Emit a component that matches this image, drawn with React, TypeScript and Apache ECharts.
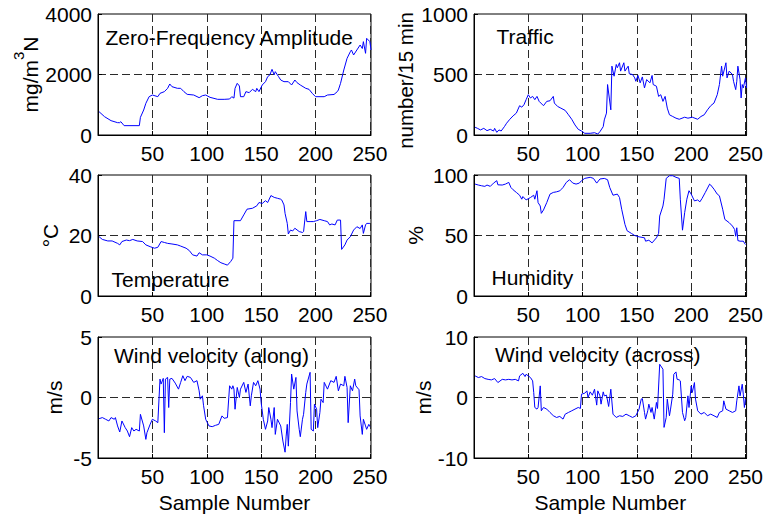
import React, { useEffect, useRef } from 'react';
import * as echarts from 'echarts';

// ---------- data (sample number, value) ----------
const amplitude: [number, number][] = [
  [1,770],[6,606],[12,474],[18,408],[20,408],[21,440],[24,309],[38,309],[39,584],[42,826],[44,1047],[47,1267],
  [50,1322],[55,1267],[57,1377],[61,1433],[64,1543],[66,1686],[68,1598],[73,1543],[76,1543],[79,1433],[82,1344],
  [88,1322],[93,1234],[96,1300],[99,1322],[103,1245],[110,1179],[116,1179],[121,1190],[123,1267],[125,1220],
  [126,1543],[128,1708],[130,1620],[131,1267],[134,1267],[136,1433],[139,1400],[142,1510],[145,1433],[146,1543],
  [148,1433],[151,1653],[154,1763],[156,1929],[158,1984],[160,2171],[162,1990],[163,2094],[166,1929],[168,1818],
  [171,1763],[175,1763],[178,1653],[181,1818],[183,1730],[186,1653],[191,1543],[194,1510],[197,1377],[200,1267],
  [208,1267],[211,1322],[217,1340],[220,1433],[221,1488],[223,1708],[226,2149],[229,2535],[232,2755],[233,2810],
  [235,2645],[238,2810],[241,2975],[243,2860],[244,3086],[246,2700],[247,3196],[250,3086],[251,2810]
];

const traffic: [number, number][] = [
  [1,64],[3,56],[6,42],[9,55],[12,36],[15,47],[18,33],[19,55],[21,22],[23,42],[25,33],[28,69],[30,97],[33,130],
  [36,158],[39,181],[42,242],[44,230],[46,250],[48,292],[50,333],[52,306],[54,319],[56,292],[58,319],[60,278],
  [64,242],[67,278],[70,283],[73,319],[74,264],[77,236],[80,222],[84,203],[87,167],[90,130],[93,83],[96,47],
  [99,33],[102,14],[107,14],[111,19],[114,8],[116,28],[119,69],[120,125],[122,181],[123,417],[124,347],[126,208],
  [127,569],[129,486],[131,583],[132,556],[134,597],[135,528],[138,597],[139,528],[142,569],[143,506],[146,500],
  [148,472],[149,444],[151,492],[153,431],[155,480],[157,389],[159,458],[162,431],[164,492],[165,417],[168,403],
  [170,319],[172,333],[174,278],[176,319],[178,222],[180,167],[183,153],[186,139],[189,130],[194,147],[197,139],
  [201,147],[206,130],[209,153],[212,167],[215,208],[218,242],[221,264],[224,333],[226,417],[228,569],[229,486],
  [232,597],[233,472],[235,528],[238,500],[239,444],[241,375],[242,444],[243,569],[245,458],[246,306],[247,417],
  [248,389],[250,472],[251,389]
];

const temperature: [number, number][] = [
  [1,19.6],[4,18.7],[9,18.2],[13,18.2],[18,17.4],[20,16.9],[22,18.0],[26,18.5],[29,18.3],[32,18.7],[36,18.2],
  [41,18.0],[44,16.9],[48,16.3],[52,15.8],[55,16.1],[58,18.0],[61,17.7],[64,17.4],[68,17.2],[73,16.9],[76,16.5],
  [81,15.8],[84,15.0],[87,13.6],[91,13.2],[93,14.3],[96,13.6],[100,13.6],[103,13.2],[107,12.5],[110,11.7],
  [113,11.0],[116,10.6],[119,10.2],[122,11.4],[124,12.5],[125,24.9],[131,24.9],[134,26.8],[137,28.7],[142,29.0],
  [146,29.8],[148,30.9],[151,30.6],[154,31.5],[156,30.9],[159,33.2],[162,32.6],[165,32.3],[168,32.0],[169,31.7],
  [171,30.1],[172,27.3],[174,24.0],[175,20.5],[177,21.8],[179,21.5],[181,22.4],[185,21.3],[188,21.0],[189,21.3],
  [191,27.9],[192,24.6],[195,24.6],[198,24.6],[201,24.9],[204,25.3],[208,24.9],[211,24.6],[213,23.5],[215,23.8],
  [218,23.5],[220,25.1],[223,25.1],[224,15.4],[227,16.9],[229,18.5],[232,19.6],[235,21.8],[238,22.9],[241,22.3],
  [243,23.5],[244,20.7],[246,23.5],[247,24.0],[250,24.0]
];

const humidity: [number, number][] = [
  [1,92.5],[4,91.7],[7,91.1],[10,90.6],[12,91.7],[15,90.6],[18,93.3],[21,95.3],[22,91.9],[26,91.7],[29,92.5],
  [32,93.9],[34,89.7],[36,87.8],[39,85.6],[42,83.3],[44,80.0],[45,82.2],[48,79.4],[52,81.4],[55,83.3],[56,80.0],
  [58,87.0],[59,77.2],[61,74.4],[62,68.3],[64,71.1],[67,77.2],[70,84.2],[73,85.6],[76,86.1],[79,86.9],[80,87.8],
  [82,89.7],[85,93.9],[88,96.1],[91,93.3],[94,92.5],[97,93.3],[99,95.3],[102,97.2],[107,98.1],[110,97.2],
  [113,93.3],[116,96.7],[120,97.2],[123,96.1],[125,89.7],[128,83.3],[132,84.2],[134,81.4],[136,71.7],[139,59.2],
  [141,53.9],[145,51.7],[148,50.0],[152,48.9],[157,48.1],[158,45.3],[161,46.1],[164,43.9],[168,48.1],[170,51.7],
  [171,66.1],[174,74.4],[175,80.0],[177,97.2],[180,99.4],[183,99.4],[186,98.1],[189,97.2],[190,80.0],[192,54.4],
  [194,68.9],[196,80.0],[198,87.0],[200,84.2],[203,78.6],[206,79.4],[208,77.8],[210,80.6],[213,85.6],[217,92.5],
  [218,91.7],[221,88.3],[224,84.2],[226,82.8],[229,71.7],[231,63.3],[235,60.6],[238,57.8],[240,55.0],[241,49.4],
  [242,56.4],[243,45.8],[245,45.3],[248,45.3],[250,42.5]
];

const windAlong: [number, number][] = [
  [1,-1.75],[4,-1.66],[7,-1.8],[10,-1.94],[12,-1.66],[15,-1.8],[16,-1.66],[18,-2.35],[20,-2.85],[22,-1.94],
  [25,-2.49],[27,-2.77],[29,-3.24],[31,-2.49],[33,-2.77],[35,-2.63],[38,-2.77],[39,-1.39],[42,-2.35],[44,-3.46],
  [45,-2.91],[48,-2.2],[50,-1.8],[53,-1.94],[55,-2.08],[57,1.52],[58,1.11],[60,1.58],[61,-2.91],[62,1.52],
  [64,1.66],[65,-0.83],[66,1.52],[68,1.58],[71,1.19],[74,0.69],[76,1.25],[78,1.8],[80,1.39],[82,1.75],[85,1.66],
  [88,1.25],[91,1.39],[93,0.55],[94,-0.14],[96,0.14],[97,-0.64],[99,-1.8],[102,-2.35],[105,-2.41],[108,-2.3],
  [111,-2.22],[114,-1.52],[116,-1.72],[119,-1.66],[121,0.97],[123,0.69],[124,0.97],[125,0.69],[126,-0.97],
  [128,0.83],[130,0],[131,0.69],[134,1.25],[136,0.42],[138,1.11],[140,-0.69],[141,0.14],[143,1.25],[145,0.97],
  [147,1.39],[149,0.69],[150,-0.42],[152,-1.8],[154,-2.63],[156,-1.94],[157,-0.83],[159,-1.8],[160,-2.49],
  [162,-0.83],[163,-3.05],[165,-1.8],[168,-2.35],[170,-3.6],[172,-4.52],[173,-3.19],[174,-2.22],[175,-4.02],
  [177,-0.42],[178,1.94],[180,0.69],[182,1.66],[183,-1.11],[185,-2.63],[186,-3.24],[188,-1.8],[189,-1.39],
  [191,0.42],[192,1.11],[195,2.08],[196,-2.63],[198,-2.77],[199,-0.55],[201,-0.97],[202,-2.49],[204,-1.25],
  [205,-0.14],[207,-0.42],[208,1.25],[211,0.69],[214,1.39],[217,1.25],[219,1.75],[221,0.55],[223,1.11],
  [226,0.97],[227,1.75],[229,0.83],[230,-2.08],[232,0.97],[234,0.55],[236,1.52],[237,0.97],[240,0.64],
  [241,-1.52],[243,-3.05],[244,-1.8],[246,-2.35],[247,-2.63],[249,-2.22],[250,-2.41]
];

const windAcross: [number, number][] = [
  [1,3.57],[4,3.3],[7,3.46],[10,3.13],[13,3.0],[16,2.91],[19,3.13],[22,2.47],[26,3.0],[29,2.91],[32,3.0],
  [35,2.91],[38,3.0],[41,2.75],[42,3.57],[45,4.0],[47,3.46],[48,3.84],[52,3.3],[54,2.75],[55,0.82],[56,-1.65],
  [58,-1.92],[59,-1.65],[61,1.92],[62,-2.2],[64,-1.65],[67,-1.92],[70,-2.47],[73,-3.0],[76,-3.3],[79,-3.13],
  [82,-3.57],[84,-2.75],[87,-2.47],[90,-2.2],[93,-1.92],[96,-1.65],[98,-1.81],[99,0.55],[102,0.71],[104,1.1],
  [105,0],[107,0.93],[109,0.38],[111,1.37],[113,-1.26],[114,1.1],[116,0.27],[117,-1.1],[119,0.93],[120,0.27],
  [122,0.38],[124,-1.48],[126,1.37],[128,-2.75],[131,-3.3],[134,-3.02],[137,-3.13],[140,-2.75],[143,-3.02],
  [146,-3.3],[149,-3.02],[152,-1.92],[154,-0.27],[155,-0.16],[157,-2.47],[158,-3.57],[160,-2.2],[161,-1.1],
  [163,-2.47],[164,-1.65],[166,-3.57],[168,-0.82],[169,-1.81],[171,5.49],[172,5.22],[174,4.67],[175,-4.94],
  [177,-3.3],[178,-0.27],[180,-3.02],[181,-1.92],[183,0.55],[184,3.84],[186,4.23],[187,3.02],[189,2.91],
  [190,2.75],[192,-2.47],[194,-3.84],[195,-3.3],[197,0.27],[198,-1.65],[200,1.92],[201,0.82],[203,2.47],
  [204,-0.27],[206,-2.2],[209,-2.75],[212,-2.47],[215,-3.02],[218,-2.75],[221,-3.02],[224,-3.3],[226,-2.47],
  [229,-2.2],[230,-0.55],[232,-1.92],[235,-2.2],[238,-2.47],[241,-2.2],[242,-0.55],[244,1.92],[245,0.27],
  [247,2.2],[248,0.55],[249,-1.65],[250,-0.27]
];

const xTickValues = [50, 100, 150, 200, 250];
const xName = 'Sample Number';

const FONT = '"Liberation Sans", Arial, Helvetica, sans-serif';
const FS = 21;

type Panel = {
  data: [number, number][];
  yMin: number; yMax: number; yStep: number;
  yName: string; label: string;
};

const panelData: Panel[] = [
  { data: amplitude, yMin: 0, yMax: 4000, yStep: 2000, yName: '{b|mg/m}{sup|3}{b|N}', label: 'Zero-Frequency Amplitude' },
  { data: traffic, yMin: 0, yMax: 1000, yStep: 500, yName: 'number/15 min', label: 'Traffic' },
  { data: temperature, yMin: 0, yMax: 40, yStep: 20, yName: '°C', label: 'Temperature' },
  { data: humidity, yMin: 0, yMax: 100, yStep: 50, yName: '%', label: 'Humidity' },
  { data: windAlong, yMin: -5, yMax: 5, yStep: 5, yName: 'm/s', label: 'Wind velocity (along)' },
  { data: windAcross, yMin: -10, yMax: 10, yStep: 10, yName: 'm/s', label: 'Wind velocity (across)' },
];

// layout (pixels)
const colLeft = [98, 474];
const rowTop = [14, 175, 337];
const plotW = 273;
const plotH = 121;
const nameGaps = [54, 58, 37, 48, 33, 39];
const nameSizes = [FS, 20.5, FS, FS, FS, FS];
const namePads: number[][] = [[0, 0, 0, 0], [0, 12, 0, 0], [0, 0, 0, 0], [0, 0, 0, 0], [0, 0, 0, 0], [0, 0, 0, 0]];
const labelPos: [number, number][] = [
  [105.5, 26.5], [496.5, 26], [111.5, 269], [491.5, 266.5], [114, 345], [495, 343.5],
];
const gridLine = { color: '#2a2a2a', type: [8, 4] as number[], width: 1 };

export default function App() {
  const ref = useRef<HTMLDivElement>(null);
  useEffect(() => {
    if (!ref.current) return;
    const chart = echarts.init(ref.current, null, { renderer: 'svg' });
    const grids: any[] = [];
    const xAxes: any[] = [];
    const yAxes: any[] = [];
    const series: any[] = [];
    const graphics: any[] = [];
    panelData.forEach((p, i) => {
      const col = i % 2;
      const row = Math.floor(i / 2);
      grids.push({
        left: colLeft[col], top: rowTop[row], width: plotW, height: plotH,
        show: true, borderColor: '#000', borderWidth: 1, backgroundColor: 'transparent',
        containLabel: false,
      });
      xAxes.push({
        type: 'value', gridIndex: i, min: 0, max: 251, interval: 50,
        name: row === 2 ? xName : '', nameLocation: 'middle', nameGap: 33.5,
        nameTextStyle: { fontFamily: FONT, fontSize: FS, color: '#000' },
        axisLine: { show: true, onZero: false, lineStyle: { color: '#000', width: 1 } },
        axisTick: { show: true, inside: true, length: 4, lineStyle: { color: '#000' } },
        axisLabel: {
          show: true, margin: 8, fontFamily: FONT, fontSize: FS, color: '#000',
          showMinLabel: false, showMaxLabel: false,
          formatter: (v: number) => (xTickValues.indexOf(v) >= 0 ? String(v) : ''),
        },
        splitLine: { show: true, showMinLine: false, showMaxLine: false, lineStyle: gridLine },
      });
      yAxes.push({
        type: 'value', gridIndex: i, min: p.yMin, max: p.yMax, interval: p.yStep,
        name: p.yName, nameLocation: 'middle', nameGap: nameGaps[i], nameRotate: 90,
        nameTextStyle: {
          fontFamily: FONT, fontSize: nameSizes[i], color: '#000', padding: namePads[i],
          rich: {
            b: { fontFamily: FONT, fontSize: FS, lineHeight: 21, verticalAlign: 'bottom', color: '#000' },
            sup: { fontFamily: FONT, fontSize: 15, padding: [0, 0, 15, 0], verticalAlign: 'top', color: '#000' },
          },
        },
        axisLine: { show: true, onZero: false, lineStyle: { color: '#000', width: 1 } },
        axisTick: { show: true, inside: true, length: 4, lineStyle: { color: '#000' } },
        axisLabel: {
          show: true, margin: 6, fontFamily: FONT, fontSize: FS, color: '#000',
          formatter: (v: number) => String(v),
        },
        splitLine: { show: true, showMinLine: false, showMaxLine: false, lineStyle: gridLine },
      });
      series.push({
        type: 'line', xAxisIndex: i, yAxisIndex: i, data: p.data,
        showSymbol: false, symbol: 'none', smooth: false,
        lineStyle: { color: '#0000ff', width: 1 }, z: 3,
      });
      graphics.push({
        type: 'text', left: labelPos[i][0], top: labelPos[i][1], z: 10,
        style: { text: p.label, fontFamily: FONT, fontSize: FS, fill: '#000' },
      });
    });
    chart.setOption({
      animation: false,
      backgroundColor: '#fff',
      grid: grids,
      xAxis: xAxes,
      yAxis: yAxes,
      series,
      graphic: graphics,
    });
    return () => chart.dispose();
  }, []);
  return (
    <div
      ref={ref}
      style={{ position: 'absolute', left: 0, top: 0, width: 766, height: 515 }}
    />
  );
}
